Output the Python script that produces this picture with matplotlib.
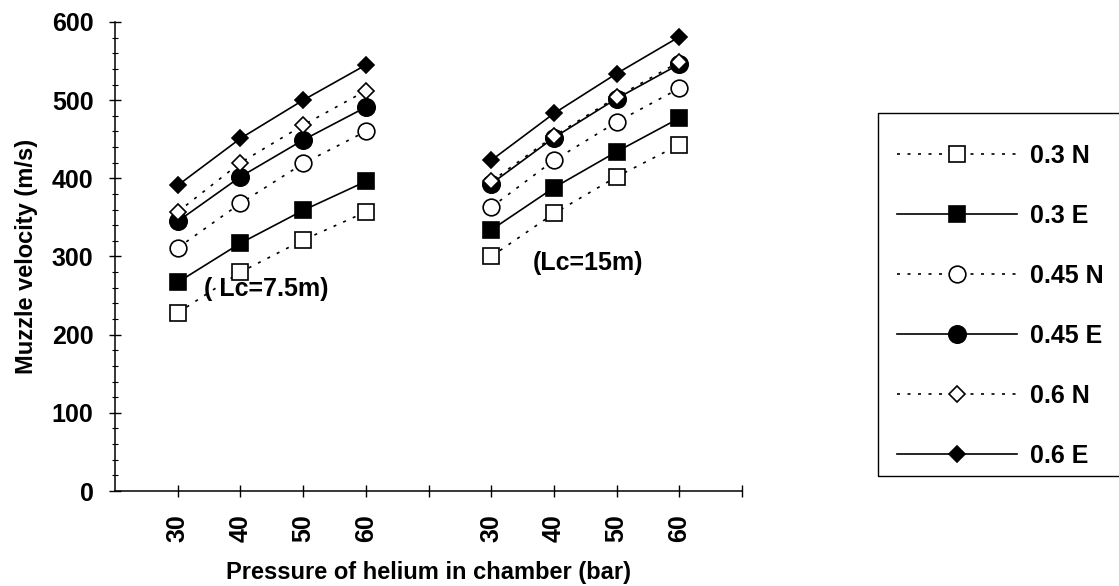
import numpy as np
import matplotlib
matplotlib.use("Agg")
import matplotlib.pyplot as plt
from matplotlib.patches import Rectangle

plt.rcParams['font.family'] = ['Liberation Sans', 'DejaVu Sans']
plt.rcParams['font.weight'] = 'bold'

# Pressure settings (bar) for the two chamber lengths
pressures = [30, 40, 50, 60]
chamber_labels = ["( Lc=7.5m)", "(Lc=15m)"]

series_labels = ["0.3 N", "0.3 E", "0.45 N", "0.45 E", "0.6 N", "0.6 E"]

# Muzzle velocity (m/s), chamber length 7.5 m
v_lc75 = {
    "0.3 N":  [228, 280, 321, 357],
    "0.3 E":  [267, 317, 359, 396],
    "0.45 N": [311, 368, 419, 460],
    "0.45 E": [345, 402, 449, 491],
    "0.6 N":  [357, 420, 468, 512],
    "0.6 E":  [391, 451, 500, 545],
}

# Muzzle velocity (m/s), chamber length 15 m
v_lc15 = {
    "0.3 N":  [300, 355, 402, 443],
    "0.3 E":  [334, 388, 434, 477],
    "0.45 N": [363, 423, 472, 515],
    "0.45 E": [393, 452, 502, 546],
    "0.6 N":  [396, 454, 504, 549],
    "0.6 E":  [423, 483, 534, 581],
}

dots = (0, (1.8, 4.5))
styles = {
    "0.3 N":  dict(marker='s', mfc='white', ms=11.5, ls=dots),
    "0.3 E":  dict(marker='s', mfc='black', ms=12, ls='-'),
    "0.45 N": dict(marker='o', mfc='white', ms=12, ls=dots),
    "0.45 E": dict(marker='o', mfc='black', ms=12.5, ls='-'),
    "0.6 N":  dict(marker='D', mfc='white', ms=8.5, ls=dots),
    "0.6 E":  dict(marker='D', mfc='black', ms=8.5, ls='-'),
}

fig = plt.figure(figsize=(11.19, 5.86), dpi=100)
ax = fig.add_axes([0.1028, 0.1621, 0.5603, 0.8004])

# categorical positions: group 1 at 1..4, a gap at 5, group 2 at 6..9
n = len(pressures)
xpos = np.arange(1, 2 * n + 2)
handles = []
for lab in series_labels:
    y = np.concatenate([v_lc75[lab], [np.nan], v_lc15[lab]])
    st = styles[lab]
    h, = ax.plot(xpos, y, color='black', lw=1.2, marker=st['marker'],
                 ms=st['ms'], mfc=st['mfc'], mec='black', mew=1.2,
                 ls=st['ls'], label=lab, zorder=3)
    handles.append(h)

ax.text(1.42, 259, chamber_labels[0], fontsize=18, fontweight='bold',
        ha='left', va='center')
ax.text(6.67, 292, chamber_labels[1], fontsize=18, fontweight='bold',
        ha='left', va='center')

ax.set_xlim(0, 2 * n + 2)
ax.set_ylim(0, 600)
ax.set_xticks(np.arange(1, 2 * n + 3))
ax.set_xticklabels([str(p) for p in pressures] + [""] + [str(p) for p in pressures] + [""],
                   rotation=90)
ax.set_yticks(np.arange(0, 601, 100))
ax.set_yticks(np.arange(0, 601, 20), minor=True)
ax.tick_params(axis='both', which='major', direction='inout', length=9,
               width=1, labelsize=18, colors='black')
ax.tick_params(axis='y', which='minor', direction='inout', length=5, width=0.8)
ax.tick_params(axis='x', which='major', pad=12)
ax.tick_params(axis='y', which='major', pad=11)
for lbl in ax.get_xticklabels() + ax.get_yticklabels():
    lbl.set_fontweight('bold')

for s in ['top', 'right']:
    ax.spines[s].set_visible(False)
for s in ['left', 'bottom']:
    ax.spines[s].set_linewidth(1.1)

ax.set_xlabel("Pressure of helium in chamber (bar)", fontsize=17,
              fontweight='bold', labelpad=14)
ax.set_ylabel("Muzzle velocity (m/s)", fontsize=17, fontweight='bold',
              labelpad=10)

# legend frame and entries to the right of the plot
W, H = 1119, 586
fig.patches.append(Rectangle((878 / W, 1 - 476 / H), 260 / W, 363 / H,
                             transform=fig.transFigure, fill=False,
                             edgecolor='black', lw=1.0))
fig.legend(handles, series_labels, loc='upper left',
           bbox_to_anchor=(897 / W, 1 - 144 / H), bbox_transform=fig.transFigure,
           frameon=False, handlelength=4.8, handletextpad=0.52,
           labelspacing=1.44, borderpad=0, borderaxespad=0,
           prop=dict(weight='bold', size=18))

fig.savefig("out.png", dpi=100)
